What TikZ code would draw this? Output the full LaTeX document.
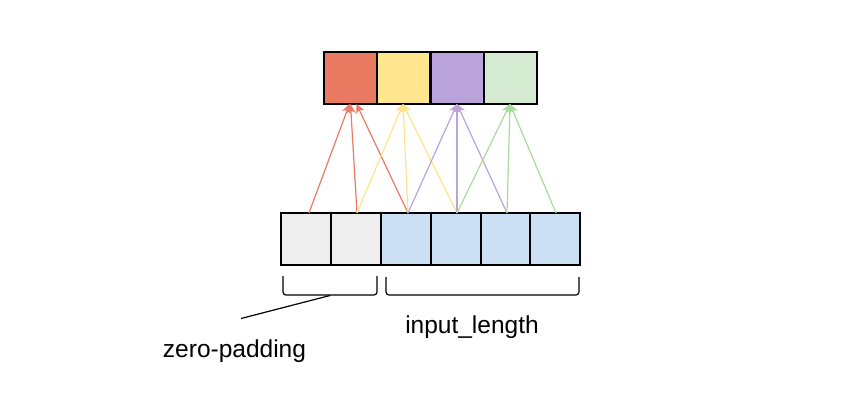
\documentclass[tikz,border=0pt]{standalone}
\usepackage{fontspec}
\setmainfont{Liberation Sans}
\usetikzlibrary{arrows.meta,calc}
\definecolor{cred}{HTML}{EA7A62}
\definecolor{cyel}{HTML}{FFE68F}
\definecolor{cpur}{HTML}{B9A3DA}
\definecolor{cgrnf}{HTML}{D5EBD1}
\definecolor{cgrn}{HTML}{AAD9A0}
\definecolor{cyelA}{HTML}{FFE38A}
\definecolor{cgry}{HTML}{EEEEEE}
\definecolor{cblu}{HTML}{CCE0F5}
\tikzset{
  cell/.style={draw=black, line width=1.3pt, minimum width=#1, minimum height=52pt, inner sep=0pt, outer sep=0pt, anchor=north west},
  cell/.default=50pt,
  tcell/.style={draw=black, line width=1.3pt, minimum width=53pt, minimum height=52pt, inner sep=0pt, outer sep=0pt, anchor=north west},
  conn/.style={line width=1.2pt, -{Stealth[length=9pt,width=9pt,inset=2.5pt]}},
  brace/.style={line width=1.2pt, rounded corners=3pt},
  lbl/.style={font=\fontsize{24.5}{28}\selectfont, inner sep=0pt}
}
\begin{document}
\begin{tikzpicture}[x=1pt,y=-1pt]
\useasboundingbox (0,0) rectangle (848,400);
% top cells
\node[tcell, fill=cred] (t0) at (324,52) {};
\node[tcell, fill=cyel] (t1) at (377,52) {};
\node[tcell, fill=cpur] (t2) at (431,52) {};
\node[tcell, fill=cgrnf] (t3) at (484,52) {};
% bottom cells
\node[cell, fill=cgry] (b0) at (281,213) {};
\node[cell, fill=cgry] (b1) at (331,213) {};
\node[cell, fill=cblu] (b2) at (381,213) {};
\node[cell, fill=cblu] (b3) at (431,213) {};
\node[cell=49pt, fill=cblu] (b4) at (481,213) {};
\node[cell, fill=cblu] (b5) at (530,213) {};
% arrows
\draw[conn, cred] ($(b0.north)+(3,0)$) -- ($(t0.south)+(-1,0)$);
\draw[conn, cred] ($(b1.north)+(1,0)$) -- ($(t0.south)+(0,0)$);
\draw[conn, cred] ($(b2.north)+(2,0)$) -- ($(t0.south)+(6,0)$);
\draw[conn, cyelA] ($(b1.north)+(1,0)$) -- ($(t1.south)+(-0.5,0)$);
\draw[conn, cyelA] ($(b2.north)+(2,0)$) -- ($(t1.south)+(-0.5,0)$);
\draw[conn, cyelA] ($(b3.north)+(1,0)$) -- ($(t1.south)+(-0.5,0)$);
\draw[conn, cpur] ($(b2.north)+(2,0)$) -- ($(t2.south)+(-0.5,0)$);
\draw[conn, cpur] ($(b3.north)+(1,0)$) -- ($(t2.south)+(-0.5,0)$);
\draw[conn, cpur] ($(b4.north)+(1.5,0)$) -- ($(t2.south)+(-0.5,0)$);
\draw[conn, cgrn] ($(b3.north)+(1,0)$) -- ($(t3.south)+(-0.5,0)$);
\draw[conn, cgrn] ($(b4.north)+(1.5,0)$) -- ($(t3.south)+(-0.5,0)$);
\draw[conn, cgrn] ($(b5.north)+(1,0)$) -- ($(t3.south)+(-0.5,0)$);
% braces
\draw[brace] (283,276) -- (283,295) -- (377,295) -- (377,276);
\draw[brace] (386,277) -- (386,295) -- (579,295) -- (579,277);
% labels
\coordinate (pz) at (330,295.5);
\node[lbl] (zp) at (234.5,351) {zero-padding};
\coordinate (lz) at (241,318.5);
\draw[line width=1.2pt] (pz) -- (lz);
\node[lbl] (il) at (472,327) {input\_length};
\end{tikzpicture}
\end{document}
